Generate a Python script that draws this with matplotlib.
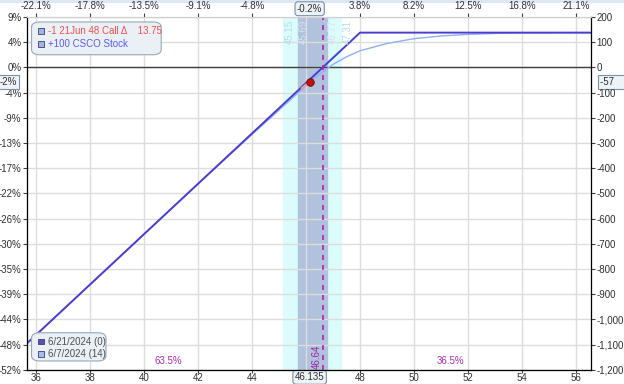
import numpy as np
import matplotlib
matplotlib.use('Agg')
import matplotlib.pyplot as plt
from matplotlib.patches import FancyBboxPatch, Rectangle

plt.rcParams['font.family'] = ['Liberation Sans', 'DejaVu Sans']

# expiration P/L (6/21/2024)
exp_price = [35.67, 48.0, 56.55]
exp_pnl = [-1095, 138, 138]
# T+14 P/L (6/7/2024)
t14_price = [35.67, 40, 42, 44, 45, 46, 46.135, 46.5, 47, 47.5, 48, 49, 50, 51, 52, 53, 54, 56, 56.55]
t14_pnl = [-1095, -662, -462, -266, -170, -72, -57, -27, 12, 42, 66, 95, 114, 125, 131, 135, 137, 138, 138]
# delta tangent at current price
tan_price = [45.85, 46.135]
tan_pnl = [-82, -57]

cur_price, cur_pnl = 46.135, -57
be_price = 46.64
sd1 = (45.69, 46.77)
sd2 = (45.15, 47.31)

xticks = [36, 38, 40, 42, 44, 48, 50, 52, 54, 56]
top_labels = ['-22.1%', '-17.8%', '-13.5%', '-9.1%', '-4.8%', '3.8%', '8.2%', '12.5%', '16.8%', '21.1%']
yticks = [200, 100, 0, -100, -200, -300, -400, -500, -600, -700, -800, -900, -1000, -1100, -1200]
right_labels = ['200', '100', '0', '-100', '-200', '-300', '-400', '-500', '-600', '-700', '-800',
                '-900', '-1,000', '-1,100', '-1,200']
left_labels = ['9%', '4%', '0%', '-4%', '-9%', '-13%', '-17%', '-22%', '-26%', '-30%', '-35%',
               '-39%', '-44%', '-48%', '-52%']

fig = plt.figure(figsize=(6.24, 3.84), dpi=100)
fig.patches.append(Rectangle((0, 0.992), 1, 0.008, transform=fig.transFigure,
                             facecolor='#dce8f5', edgecolor='none', zorder=-1))
ax = fig.add_axes([0.0433, 0.037, 0.9037, 0.9187])
ax.set_xlim(35.67, 56.55)
ax.set_ylim(-1200, 200)

ax.axvspan(sd2[0], sd2[1], color='#dcfcfc', zorder=0)
ax.axvspan(sd1[0], sd1[1], color='#b0c2dc', zorder=0)

ax.set_xticks(xticks + [46])
ax.set_yticks(yticks)
ax.grid(True, color='#dcdcdc', linewidth=1, zorder=0.5)
ax.set_axisbelow(True)
ax.axhline(0, color='#404040', linewidth=1, zorder=1)

ax.plot(t14_price, t14_pnl, color='#8fb0f5', linewidth=1, zorder=2)
ax.plot(exp_price, exp_pnl, color='#4a3ed2', linewidth=1.4, zorder=3)
ax.plot(tan_price, tan_pnl, color='#f4a080', linewidth=1.5, zorder=3)
ax.scatter([cur_price], [cur_pnl], s=30, color='#c01010', edgecolor='#600000', linewidth=0.5, zorder=5)
ax.axvline(be_price, color='#b020b0', linestyle=(0, (3, 3)), linewidth=1.2, zorder=4)

tick_kw = dict(labelsize=7, labelcolor='#303030', color='#404040', length=3, pad=1)
ax.set_xticklabels([str(x) for x in xticks] + [''])
ax.tick_params(axis='x', labelsize=7, labelcolor='#303030', color='#404040', length=2, pad=0.5)
ax.set_yticklabels(left_labels)
ax.tick_params(axis='y', **tick_kw)
for s in ['left', 'right', 'bottom']:
    ax.spines[s].set_color('#404040')
ax.spines['top'].set_color('#d0d0d0')

ax_r = ax.twinx()
ax_r.set_ylim(ax.get_ylim())
ax_r.set_yticks(yticks)
ax_r.set_yticklabels(right_labels)
ax_r.tick_params(axis='y', **tick_kw)
ax_r.spines['right'].set_color('#404040')
ax_r.spines['top'].set_visible(False)

ax_t = ax.twiny()
ax_t.set_xlim(ax.get_xlim())
ax_t.set_xticks(xticks)
ax_t.set_xticklabels(top_labels)
ax_t.tick_params(axis='x', **tick_kw)
ax_t.spines['top'].set_color('#d0d0d0')

box = dict(boxstyle='round,pad=0.2,rounding_size=0.3', facecolor='#eef3f8', edgecolor='#7890a8', linewidth=0.8)
ax.text(cur_price, -1210, '46.135', ha='center', va='top', fontsize=7, color='#303030', bbox=box,
        clip_on=False, zorder=10)
ax.text(cur_price, 213, '-0.2%', ha='center', va='bottom', fontsize=7, color='#303030', bbox=box,
        clip_on=False, zorder=10)
ax.text(35.3, cur_pnl, '-2%', ha='right', va='center', fontsize=7, color='#303030',
        bbox=dict(boxstyle='square,pad=0.2', facecolor='#eef3f8', edgecolor='#7890a8', linewidth=0.8),
        clip_on=False, zorder=10)
ax.text(56.9, cur_pnl, '-57    ', ha='left', va='center', fontsize=7, color='#303030',
        bbox=dict(boxstyle='square,pad=0.2', facecolor='#eef3f8', edgecolor='#7890a8', linewidth=0.8),
        clip_on=False, zorder=10)

# band labels
for xv, lab, col in [(sd2[0], '45.15', '#b8dce4'), (sd1[0], '45.69', '#d8e0ee'),
                     (sd1[1], '46.77', '#d8e0ee'), (sd2[1], '47.31', '#b8dce4')]:
    ax.text(xv + 0.05, 190, lab, rotation=90, ha='left', va='top', fontsize=7, color=col, zorder=6)
ax.text(be_price - 0.05, -1195, '46.64', rotation=90, ha='right', va='bottom', fontsize=7,
        color='#a020a0', zorder=6)
ax.text(40.9, -1165, '63.5%', ha='center', va='center', fontsize=7, color='#b030b0')
ax.text(51.35, -1165, '36.5%', ha='center', va='center', fontsize=7, color='#b030b0')

# legends
ax.add_patch(FancyBboxPatch((0.008, 0.893), 0.23, 0.093, transform=ax.transAxes,
                            boxstyle='round,pad=0,rounding_size=0.015', facecolor='#eaf0f6',
                            edgecolor='#98a8b8', linewidth=0.8, zorder=6))
ax.scatter([0.025, 0.025], [0.96, 0.924], s=16, marker='s', transform=ax.transAxes,
           color=['#a0b4e8', '#a0b4e8'], edgecolor='#404060', linewidth=0.6, zorder=7)
ax.text(0.037, 0.96, '-1 21Jun 48 Call Δ    13.75', transform=ax.transAxes, fontsize=7,
        color='#f05050', va='center', zorder=7)
ax.text(0.037, 0.924, '+100 CSCO Stock', transform=ax.transAxes, fontsize=7,
        color='#5a5af0', va='center', zorder=7)

ax.add_patch(FancyBboxPatch((0.008, 0.025), 0.132, 0.08, transform=ax.transAxes,
                            boxstyle='round,pad=0,rounding_size=0.015', facecolor='#eaf0f6',
                            edgecolor='#98a8b8', linewidth=0.8, zorder=6))
ax.scatter([0.025, 0.025], [0.08, 0.044], s=16, marker='s', transform=ax.transAxes,
           color=['#5050c8', '#a0c0f0'], edgecolor='#404060', linewidth=0.6, zorder=7)
ax.text(0.037, 0.08, '6/21/2024 (0)', transform=ax.transAxes, fontsize=7, color='#505050',
        va='center', zorder=7)
ax.text(0.037, 0.044, '6/7/2024 (14)', transform=ax.transAxes, fontsize=7, color='#505050',
        va='center', zorder=7)

fig.savefig('out.png', dpi=100)
